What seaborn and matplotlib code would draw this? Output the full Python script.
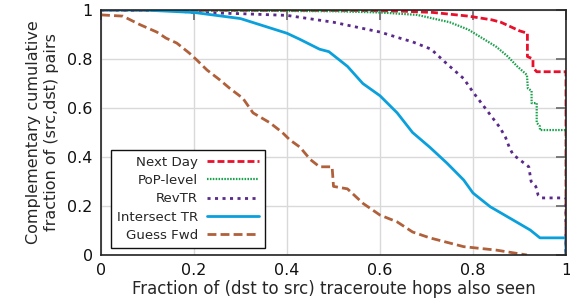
import matplotlib
matplotlib.use("Agg")
import matplotlib.pyplot as plt
import seaborn as sns
import pandas as pd

# ---- data ----
next_day_x = [0, 0.55, 0.65, 0.714, 0.79, 0.84, 0.86, 0.90, 0.917, 0.917, 0.929, 0.929, 0.937, 1.0, 1.0]
next_day_y = [1.0, 0.998, 0.995, 0.99, 0.975, 0.96, 0.95, 0.915, 0.905, 0.81, 0.80, 0.765, 0.748, 0.748, 0.0]

pop_x = [0, 0.5, 0.6, 0.68, 0.75, 0.79, 0.82, 0.85, 0.875, 0.895, 0.916, 0.918, 0.926, 0.926,
         0.937, 0.937, 0.944, 0.944, 1.0, 1.0]
pop_y = [1.0, 0.995, 0.99, 0.98, 0.95, 0.92, 0.885, 0.85, 0.81, 0.77, 0.735, 0.68, 0.67, 0.62,
         0.62, 0.54, 0.525, 0.51, 0.51, 0.0]

revtr_x = [0, 0.15, 0.2, 0.3, 0.4, 0.5, 0.6, 0.643, 0.67, 0.71, 0.744, 0.78, 0.80, 0.83, 0.858,
           0.87, 0.878, 0.886, 0.92, 0.925, 0.935, 0.94, 0.948, 1.0, 1.0]
revtr_y = [1.0, 0.998, 0.99, 0.985, 0.978, 0.95, 0.91, 0.885, 0.87, 0.84, 0.78, 0.72, 0.665, 0.59, 0.52,
           0.48, 0.44, 0.41, 0.36, 0.30, 0.28, 0.245, 0.233, 0.233, 0.0]

inter_x = [0, 0.09, 0.2, 0.26, 0.3, 0.4, 0.428, 0.47, 0.49, 0.53, 0.563, 0.6, 0.637, 0.67, 0.707,
           0.744, 0.78, 0.80, 0.837, 0.886, 0.923, 0.944, 1.0, 1.0]
inter_y = [1.0, 1.0, 0.99, 0.975, 0.965, 0.905, 0.88, 0.84, 0.83, 0.77, 0.70, 0.65, 0.58, 0.50, 0.44,
           0.375, 0.306, 0.253, 0.197, 0.143, 0.102, 0.07, 0.07, 0.0]

guess_x = [0, 0.047, 0.084, 0.12, 0.14, 0.163, 0.19, 0.206, 0.228, 0.256, 0.277, 0.305, 0.327,
           0.363, 0.39, 0.406, 0.428, 0.45, 0.47, 0.497, 0.5, 0.53, 0.564, 0.6, 0.637, 0.67, 0.707,
           0.78, 0.85, 0.916]
guess_y = [0.98, 0.975, 0.94, 0.91, 0.885, 0.865, 0.824, 0.796, 0.755, 0.714, 0.68, 0.64, 0.58,
           0.54, 0.50, 0.47, 0.44, 0.39, 0.36, 0.36, 0.28, 0.27, 0.21, 0.163, 0.135, 0.094, 0.07,
           0.034, 0.02, 0.0]

series_names = ["Next Day", "PoP-level", "RevTR", "Intersect TR", "Guess Fwd"]
tick_vals = [0, 0.2, 0.4, 0.6, 0.8, 1]
tick_labels = ["0", "0.2", "0.4", "0.6", "0.8", "1"]

series = {
    "Next Day": (next_day_x, next_day_y),
    "PoP-level": (pop_x, pop_y),
    "RevTR": (revtr_x, revtr_y),
    "Intersect TR": (inter_x, inter_y),
    "Guess Fwd": (guess_x, guess_y),
}

styles = {
    "Next Day": dict(color="#e8102b", lw=2.0, dashes=(2.5, 1.1)),
    "PoP-level": dict(color="#17a14a", lw=1.6, dashes=(0.7, 0.6)),
    "RevTR": dict(color="#5a2a8a", lw=2.0, dashes=(1.1, 1.6)),
    "Intersect TR": dict(color="#0aa0dc", lw=2.0, dashes=None),
    "Guess Fwd": dict(color="#b0603a", lw=2.0, dashes=(3.2, 1.5)),
}

sns.set_theme(style="white")
plt.rcParams['font.family'] = ['DejaVu Sans']

fig = plt.figure(figsize=(5.7, 2.98), dpi=100)
ax = fig.add_axes([101/570, 1-255/298, 465/570, 245/298])

for name in series_names:
    xs, ys = series[name]
    df = pd.DataFrame({"x": xs, "y": ys})
    st = styles[name]
    sns.lineplot(data=df, x="x", y="y", ax=ax, sort=False, estimator=None,
                 color=st["color"], linewidth=st["lw"], label=name)
    l = ax.get_lines()[-1]
    if st["dashes"] is not None:
        l.set_dashes(st["dashes"])

ax.set_xlim(0, 1)
ax.set_ylim(0, 1)
ax.set_xticks(tick_vals)
ax.set_xticklabels(tick_labels)
ax.set_yticks(tick_vals)
ax.set_yticklabels(tick_labels)
ax.grid(True, color="#d9d9d9", linewidth=1.0)
ax.set_axisbelow(True)
for s in ax.spines.values():
    s.set_color("#222222")
    s.set_linewidth(1.2)
ax.tick_params(direction="in", length=7, width=1.2, color="#666666",
               top=True, right=True, labelsize=11.5, pad=6, labelcolor="#111111")
ax.set_xlabel("Fraction of (dst to src) traceroute hops also seen", fontsize=12, labelpad=1)
ax.set_ylabel("Complementary cumulative\nfraction of (src,dst) pairs", fontsize=11.5, labelpad=6)

leg = ax.legend(loc="lower left", bbox_to_anchor=(0.021, 0.028), borderaxespad=0,
                markerfirst=False, fontsize=9.6, frameon=True, fancybox=False,
                framealpha=1, edgecolor="#111111", handlelength=3.9,
                labelspacing=0.4, borderpad=0.45, handletextpad=0.65)
leg.get_frame().set_linewidth(1.0)

fig.savefig("out.png", dpi=100)
